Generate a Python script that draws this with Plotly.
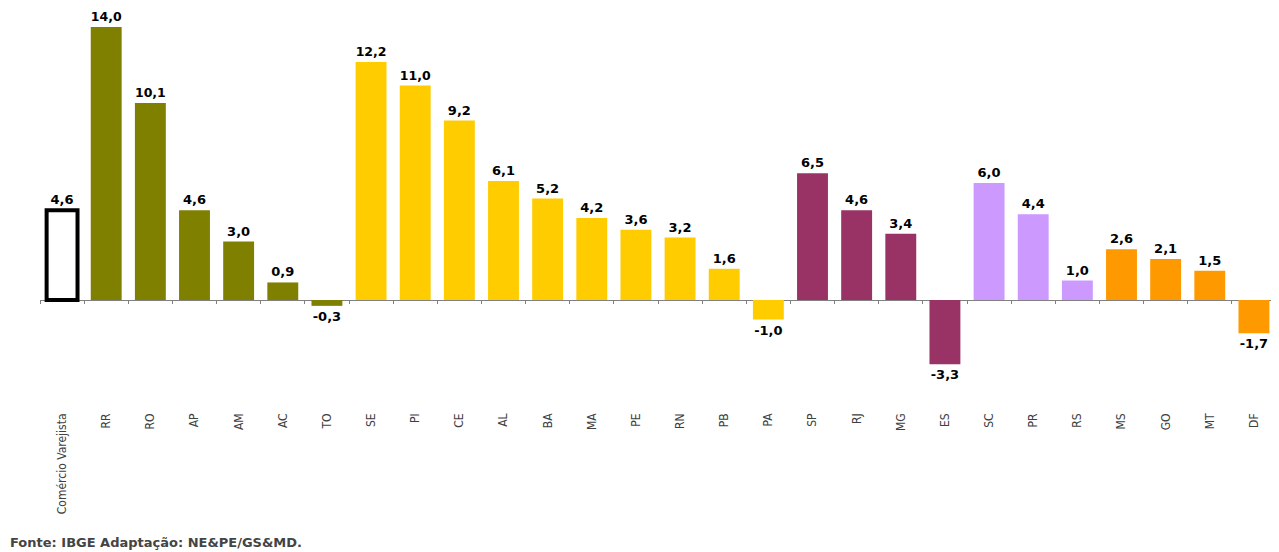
import plotly.graph_objects as go

categories = ["Comércio Varejista", "RR", "RO", "AP", "AM", "AC", "TO",
              "SE", "PI", "CE", "AL", "BA", "MA", "PE", "RN", "PB", "PA",
              "SP", "RJ", "MG", "ES", "SC", "PR", "RS", "MS", "GO", "MT", "DF"]
values = [4.6, 14.0, 10.1, 4.6, 3.0, 0.9, -0.3,
          12.2, 11.0, 9.2, 6.1, 5.2, 4.2, 3.6, 3.2, 1.6, -1.0,
          6.5, 4.6, 3.4, -3.3, 6.0, 4.4, 1.0, 2.6, 2.1, 1.5, -1.7]
groups = ["total"] + ["norte"] * 6 + ["nordeste"] * 10 + ["sudeste"] * 4 + ["sul"] * 3 + ["centro"] * 4
group_colors = {"total": "#FFFFFF", "norte": "#808000", "nordeste": "#FFCC00",
                "sudeste": "#993366", "sul": "#CC99FF", "centro": "#FF9900"}
footer = "Fonte: IBGE Adaptação: NE&PE/GS&MD."

colors = [group_colors[g] for g in groups]
line_w = [4 if g == "total" else 0 for g in groups]
texts = [f"{v:.1f}".replace(".", ",") for v in values]

y_lo, y_hi = -5.64, 14.87

fig = go.Figure()
fig.add_trace(go.Bar(
    x=categories, y=values,
    marker=dict(color=colors, line=dict(color="#000000", width=line_w)),
    text=texts, textposition="outside", cliponaxis=False, textangle=0,
    textfont=dict(family="DejaVu Sans", size=13, color="#000000", weight="bold"),
    hoverinfo="skip",
))
# invisible helper trace so the zero-line tick axis gets its categories
fig.add_trace(go.Scatter(x=categories, y=values, xaxis="x2", mode="none",
                         hoverinfo="skip", showlegend=False))

fig.update_layout(
    width=1271, height=544,
    margin=dict(l=32, r=3, t=2, b=142),
    paper_bgcolor="white", plot_bgcolor="white",
    bargap=0.3, showlegend=False,
    xaxis=dict(tickangle=-90, showgrid=False, showline=False, ticks="",
               tickfont=dict(family="DejaVu Sans Condensed, DejaVu Sans", size=12, color="#404040")),
    xaxis2=dict(overlaying="x", anchor="free", position=(0 - y_lo) / (y_hi - y_lo),
                matches="x", showticklabels=False, showgrid=False, showline=False,
                ticks="outside", tickson="boundaries", ticklen=3, tickcolor="#808080",
                tickwidth=1),
    yaxis=dict(range=[y_lo, y_hi], showticklabels=False, showgrid=False,
               zeroline=True, zerolinecolor="#808080", zerolinewidth=1, ticks=""),
    annotations=[dict(text=footer, xref="paper", yref="paper", x=-32 / 1236, y=-0.33,
                      xanchor="left", yanchor="middle", showarrow=False,
                      font=dict(family="DejaVu Sans", size=13, color="#444444", weight="bold"))],
)
fig.write_html("out.html")
